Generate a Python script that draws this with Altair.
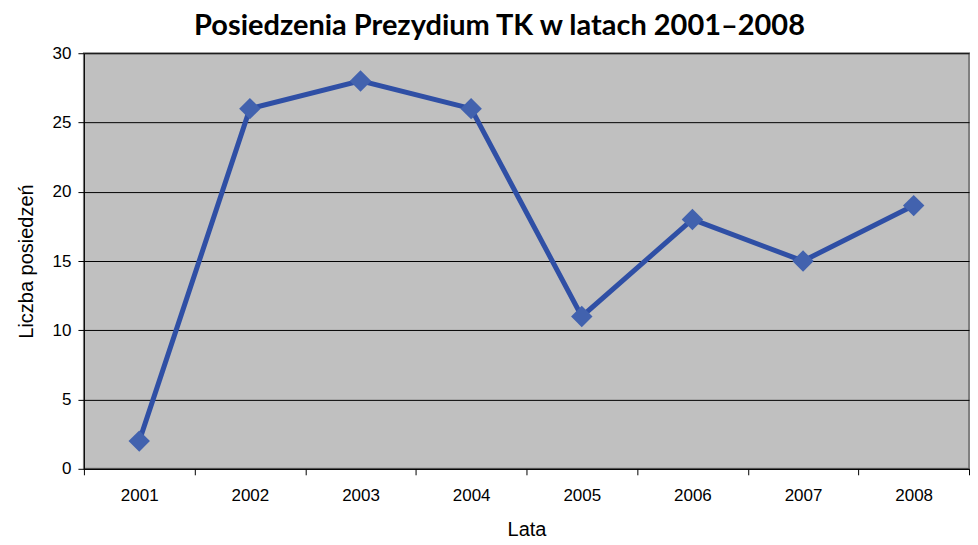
import altair as alt
import pandas as pd

years = ["2001", "2002", "2003", "2004", "2005", "2006", "2007", "2008"]
meetings = [2, 26, 28, 26, 11, 18, 15, 19]

df = pd.DataFrame({"Lata": years, "Liczba": meetings})

x = alt.X("Lata:N", sort=years,
          scale=alt.Scale(paddingInner=0, paddingOuter=0),
          axis=alt.Axis(title="Lata", labelAngle=0, tickBand="extent",
                        labelFont="Liberation Sans", labelFontSize=17, labelColor="#000",
                        titleFont="Liberation Sans", titleFontSize=20, titleFontWeight="normal",
                        titleColor="#000", titlePadding=16, labelPadding=13,
                        domainColor="#000", tickColor="#000", tickSize=6, grid=False))
y = alt.Y("Liczba:Q", scale=alt.Scale(domain=[0, 30], nice=False),
          axis=alt.Axis(title="Liczba posiedzeń", values=[0, 5, 10, 15, 20, 25, 30],
                        labelFont="Liberation Sans", labelFontSize=17, labelColor="#000",
                        titleFont="Liberation Sans", titleFontSize=20, titleFontWeight="normal",
                        titleColor="#000", titlePadding=16, labelPadding=7,
                        domainColor="#000", tickColor="#000", tickSize=6,
                        grid=True, gridColor="#000", gridWidth=1))

line = alt.Chart(df).mark_line(color="#2f4fa5", strokeWidth=5).encode(x=x, y=y)
pts = alt.Chart(df).mark_point(shape="diamond", filled=True, size=460, opacity=1,
                               color="#4262ae").encode(x=x, y=y)

chart = (line + pts).properties(
    width=886, height=416,
    title=alt.TitleParams("Posiedzenia Prezydium TK w latach 2001–2008",
                          font="Lato", fontSize=29, fontWeight="bold", color="#000",
                          anchor="middle", offset=3, dx=-27),
    padding={"left": 8, "right": 0, "top": 4, "bottom": 0},
).configure_view(fill="#c0c0c0", stroke="#808080", strokeWidth=2)

chart.save("out.html", embed_options={"renderer": "svg", "actions": False})
